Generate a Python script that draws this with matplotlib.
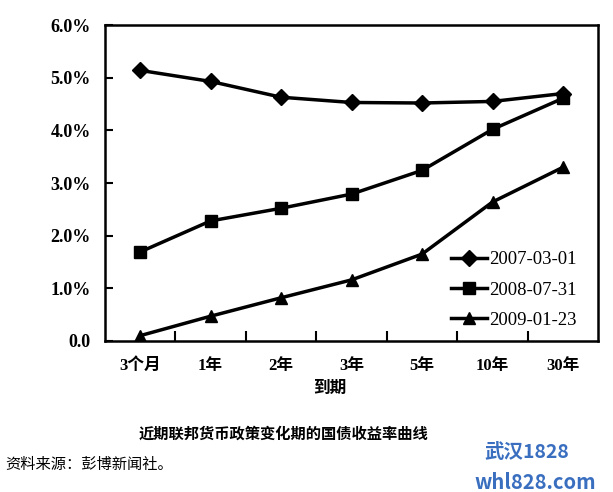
import matplotlib.pyplot as plt

plt.rcParams['font.family'] = ['Liberation Serif', 'Noto Sans CJK SC']

maturities = ['3个月', '1年', '2年', '3年', '5年', '10年', '30年']
y_2007 = [5.14, 4.93, 4.63, 4.53, 4.52, 4.55, 4.70]
y_2008 = [1.69, 2.28, 2.52, 2.79, 3.24, 4.02, 4.61]
y_2009 = [0.10, 0.47, 0.82, 1.16, 1.65, 2.64, 3.30]
series_labels = ['2007-03-01', '2008-07-31', '2009-01-23']
y_ticks = [0, 1, 2, 3, 4, 5, 6]
y_tick_labels = ['0.0', '1.0%', '2.0%', '3.0%', '4.0%', '5.0%', '6.0%']

fig = plt.figure(figsize=(6.13, 4.92), dpi=100)
ax = fig.add_axes([0.171, 0.307, 0.805, 0.642])

x = list(range(len(maturities)))
ax.plot(x, y_2007, marker='D', markersize=8, lw=2.5, c='black', label=series_labels[0])
ax.plot(x, y_2008, marker='s', markersize=8, lw=2.5, c='black', label=series_labels[1])
ax.plot(x, y_2009, marker='^', markersize=9, lw=2.5, c='black', label=series_labels[2])

ax.set_xlim(-0.5, 6.5)
ax.set_ylim(0, 6)
ax.set_yticks(y_ticks)
ax.set_yticklabels(y_tick_labels, fontsize=13, fontweight='bold')
ax.set_xticks(x)
ax.set_xticklabels(maturities, fontsize=12, fontweight='bold')
ax.tick_params(axis='x', which='major', length=0, pad=12)
ax.set_xticks([i + 0.5 for i in range(6)], minor=True)
ax.tick_params(axis='x', which='minor', direction='in', length=7, width=1.5)
ax.tick_params(axis='y', direction='in', length=6, width=1.5, pad=10)
for side in ['top', 'bottom', 'left', 'right']:
    ax.spines[side].set_linewidth(1.8)

ax.set_xlabel('到期', fontsize=12, fontweight='bold', labelpad=2)
ax.xaxis.set_label_coords(0.455, -0.125)

ax.legend(loc='lower right', bbox_to_anchor=(0.99, -0.015), frameon=False,
          prop={'size': 13.5}, handlelength=1.9, handletextpad=0.1, labelspacing=0.7)

fig.text(0.462, 0.118, '近期联邦货币政策变化期的国债收益率曲线', ha='center', va='center',
         fontsize=11, fontweight='bold')
fig.text(0.008, 0.055, '资料来源：彭博新闻社。', ha='left', va='center', fontsize=11)
fig.text(0.86, 0.08, '武汉1828', ha='center', va='center', fontsize=14,
         color='#3a6fc0', family=['Noto Sans CJK SC'], fontweight='bold')
fig.text(0.873, 0.02, 'whl828.com', ha='center', va='center', fontsize=14.5,
         color='#3a6fc0', family=['Noto Sans CJK SC'], fontweight='bold')

fig.savefig('out.png', dpi=100)
